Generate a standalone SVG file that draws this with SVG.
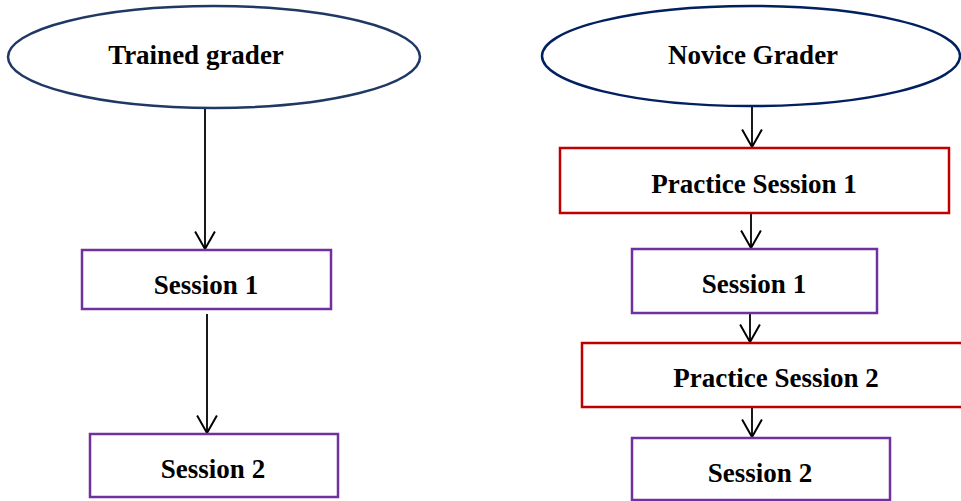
<svg xmlns="http://www.w3.org/2000/svg" width="961" height="501" viewBox="0 0 961 501">
<style>
text{font-family:"Liberation Serif","Times New Roman",serif;font-weight:bold;font-size:27px;fill:#000;text-anchor:middle}
.ell{fill:#fff;stroke-width:2.5}
.pur{fill:#fff;stroke:#7030A0;stroke-width:2.5}
.red{fill:#fff;stroke:#C00000;stroke-width:2.5}
.con line{stroke:#000;stroke-width:1.8}
</style>
<defs>
<marker id="ah" markerUnits="userSpaceOnUse" markerWidth="22" markerHeight="22" refX="17" refY="10" orient="auto" viewBox="0 0 20 20">
<path d="M1,1 L17,10 L1,19" fill="none" stroke="#000" stroke-width="1.8"/>
</marker>
</defs>
<rect width="961" height="501" fill="#fff"/>
<g class="con">
<line x1="205" y1="108" x2="205" y2="249" marker-end="url(#ah)"/>
<line x1="207" y1="314" x2="207" y2="433" marker-end="url(#ah)"/>
<line x1="752" y1="106" x2="752" y2="147" marker-end="url(#ah)"/>
<line x1="751" y1="213" x2="751" y2="248" marker-end="url(#ah)"/>
<line x1="750" y1="313" x2="750" y2="342" marker-end="url(#ah)"/>
<line x1="752" y1="407" x2="752" y2="437" marker-end="url(#ah)"/>
</g>
<g id="trained">
<ellipse class="ell" cx="214" cy="57" rx="206" ry="51" stroke="#1F3864"/>
<text x="196" y="64">Trained grader</text>
</g>
<g id="l-session1">
<rect class="pur" x="82" y="250" width="249" height="59"/>
<text x="206" y="294">Session 1</text>
</g>
<g id="l-session2">
<rect class="pur" x="90" y="434" width="248" height="63"/>
<text x="213" y="478">Session 2</text>
</g>
<g id="novice">
<ellipse class="ell" cx="751" cy="56" rx="209" ry="50" stroke="#002060"/>
<text x="753" y="64">Novice Grader</text>
</g>
<g id="practice1">
<rect class="red" x="560" y="148" width="389" height="65"/>
<text x="754" y="193">Practice Session 1</text>
</g>
<g id="r-session1">
<rect class="pur" x="632" y="249" width="245" height="64"/>
<text x="754" y="293">Session 1</text>
</g>
<g id="practice2">
<rect class="red" x="582" y="343" width="400" height="64"/>
<text x="776" y="387">Practice Session 2</text>
</g>
<g id="r-session2">
<rect class="pur" x="632" y="438" width="258" height="62"/>
<text x="760" y="482">Session 2</text>
</g>
</svg>
